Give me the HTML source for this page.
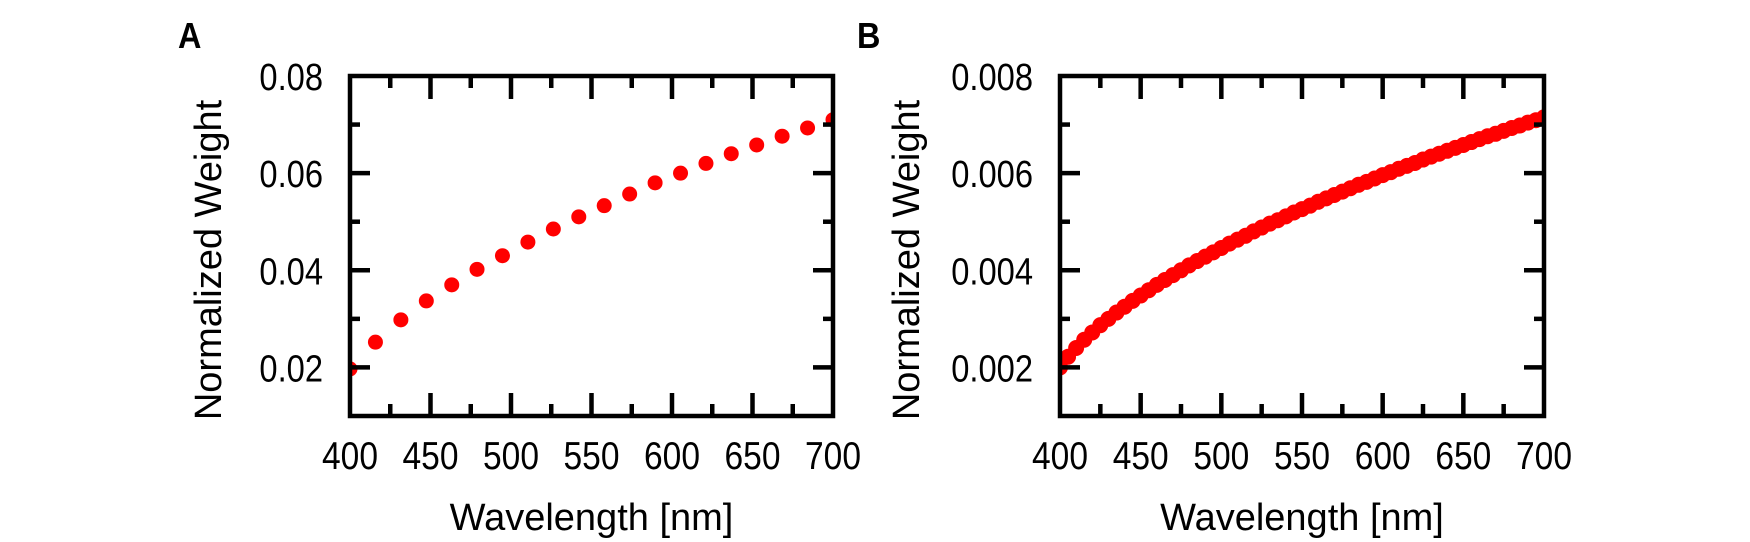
<!DOCTYPE html>
<html><head><meta charset="utf-8">
<style>
html,body{margin:0;padding:0;background:#fff;}
svg{display:block;font-family:"Liberation Sans",sans-serif;}
</style></head>
<body>
<svg id="fig" width="1750" height="542" viewBox="0 0 1750 542" xmlns="http://www.w3.org/2000/svg"></svg>
<script>
const xTicks = [400, 450, 500, 550, 600, 650, 700];
const yTicksA = [0.02, 0.04, 0.06, 0.08];
const yTicksB = [0.002, 0.004, 0.006, 0.008];
const yLabelsA = ["0.02", "0.04", "0.06", "0.08"];
const yLabelsB = ["0.002", "0.004", "0.006", "0.008"];
const wavelengthsA = [400,415.8,431.6,447.4,463.2,478.9,494.7,510.5,526.3,542.1,557.9,573.7,589.5,605.3,621.1,636.8,652.6,668.4,684.2,700];
const weightsA = [0.0197,0.0252,0.0298,0.0337,0.0370,0.0402,0.0430,0.0458,0.0485,0.0510,0.0533,0.0557,0.0580,0.0600,0.0620,0.0640,0.0658,0.0676,0.0693,0.0710];
const wavelengthsB = [400,405,410,415,420,425,430,435,440,445,450,455,460,465,470,475,480,485,490,495,500,505,510,515,520,525,530,535,540,545,550,555,560,565,570,575,580,585,590,595,600,605,610,615,620,625,630,635,640,645,650,655,660,665,670,675,680,685,690,695,700];
const weightsB = [0.00200,0.00222,0.00240,0.00257,0.00272,0.00287,0.00300,0.00313,0.00325,0.00337,0.00348,0.00359,0.00370,0.00380,0.00390,0.00400,0.00410,0.00419,0.00428,0.00437,0.00446,0.00455,0.00463,0.00471,0.00480,0.00488,0.00496,0.00503,0.00511,0.00519,0.00526,0.00533,0.00541,0.00548,0.00555,0.00562,0.00569,0.00576,0.00582,0.00589,0.00596,0.00602,0.00609,0.00615,0.00621,0.00628,0.00634,0.00640,0.00646,0.00652,0.00658,0.00664,0.00670,0.00676,0.00681,0.00687,0.00693,0.00698,0.00704,0.00709,0.00715];

const NS = "http://www.w3.org/2000/svg";
const svg = document.getElementById('fig');
function mk(tag, attrs, parent){
  const e = document.createElementNS(NS, tag);
  for (const k in attrs) e.setAttribute(k, attrs[k]);
  (parent||svg).appendChild(e);
  return e;
}
function panel(id, letter, L, R, T, B, yMin, yMax, yTicks, yLabels, xs, ys, letterX, titleX, r){
  const g = mk('g', {});
  
  
  const sx = v => L + (v - 400) / 300 * (R - L);
  const sy = v => B - (v - yMin) / (yMax - yMin) * (B - T);
  const cp = mk('clipPath', {id: 'clip' + id}, g);
  mk('rect', {x: L, y: T, width: R - L, height: B - T}, cp);
  const pts = mk('g', {'clip-path': 'url(#clip' + id + ')'}, g);
  
  
  for (let i = 0; i < xs.length; i++){
    const c = mk('circle', {cx: sx(xs[i]), cy: sy(ys[i]), r: r, fill: '#ff0000'}, pts);
    
    
  }
  const ax = mk('g', {stroke: '#000', 'stroke-width': 4.5, fill: 'none', 'stroke-linecap': 'butt'}, g);
  
  
  for (let v = 400; v <= 700; v += 25){
    const x = sx(v);
    const len = (v % 50 === 0) ? 23 : 12;
    if (v > 400 && v < 700){
      mk('line', {x1: x, y1: B, x2: x, y2: B - len}, ax);
      mk('line', {x1: x, y1: T, x2: x, y2: T + len}, ax);
    }
  }
  const step = yTicks[1] - yTicks[0];
  for (let k = 0; k < 20; k++){
    const v = yMin + k * step / 2;
    if (v > yMax + 1e-9) break;
    const y = sy(v);
    if (y <= T + 2 || y >= B - 2) continue;
    const major = yTicks.some(t => Math.abs(t - v) < step / 10);
    const len = major ? 20 : 10;
    mk('line', {x1: L, y1: y, x2: L + len, y2: y}, ax);
    mk('line', {x1: R, y1: y, x2: R - len, y2: y}, ax);
  }
  const box = mk('rect', {x: L, y: T, width: R - L, height: B - T}, ax);
  
  
  xTicks.forEach(v => {
    const t = mk('text', {x: 0, y: 0, 'font-size': 39, 'text-anchor': 'middle', transform: 'translate(' + sx(v) + ',469) scale(0.86,1)'}, g);
    t.textContent = String(v);
    
    
  });
  yTicks.forEach((v, i) => {
    const t = mk('text', {x: 0, y: 0, 'font-size': 38, 'text-anchor': 'end', transform: 'translate(' + (L - 27) + ',' + (sy(v) + 14) + ') scale(0.86,1)'}, g);
    t.textContent = yLabels[i];
    
    
  });
  const xt = mk('text', {x: (L + R) / 2, y: 530, 'font-size': 38, 'text-anchor': 'middle'}, g);
  xt.textContent = 'Wavelength [nm]';
  
  
  const yt = mk('text', {x: 0, y: 0, 'font-size': 38, 'text-anchor': 'middle', transform: 'translate(' + titleX + ',260) rotate(-90)'}, g);
  yt.textContent = 'Normalized Weight';
  
  
  const lt = mk('text', {x: 0, y: 0, 'font-size': 36, 'font-weight': 'bold', transform: 'translate(' + letterX + ',48) scale(0.9,1)'}, g);
  lt.textContent = letter;
  
  
}
panel('a', 'A', 350, 833, 76, 416, 0.01, 0.08, yTicksA, yLabelsA, wavelengthsA, weightsA, 178, 221, 7.5);
panel('b', 'B', 1060, 1544, 76, 416, 0.001, 0.008, yTicksB, yLabelsB, wavelengthsB, weightsB, 857, 919, 8);
</script>
</body></html>
